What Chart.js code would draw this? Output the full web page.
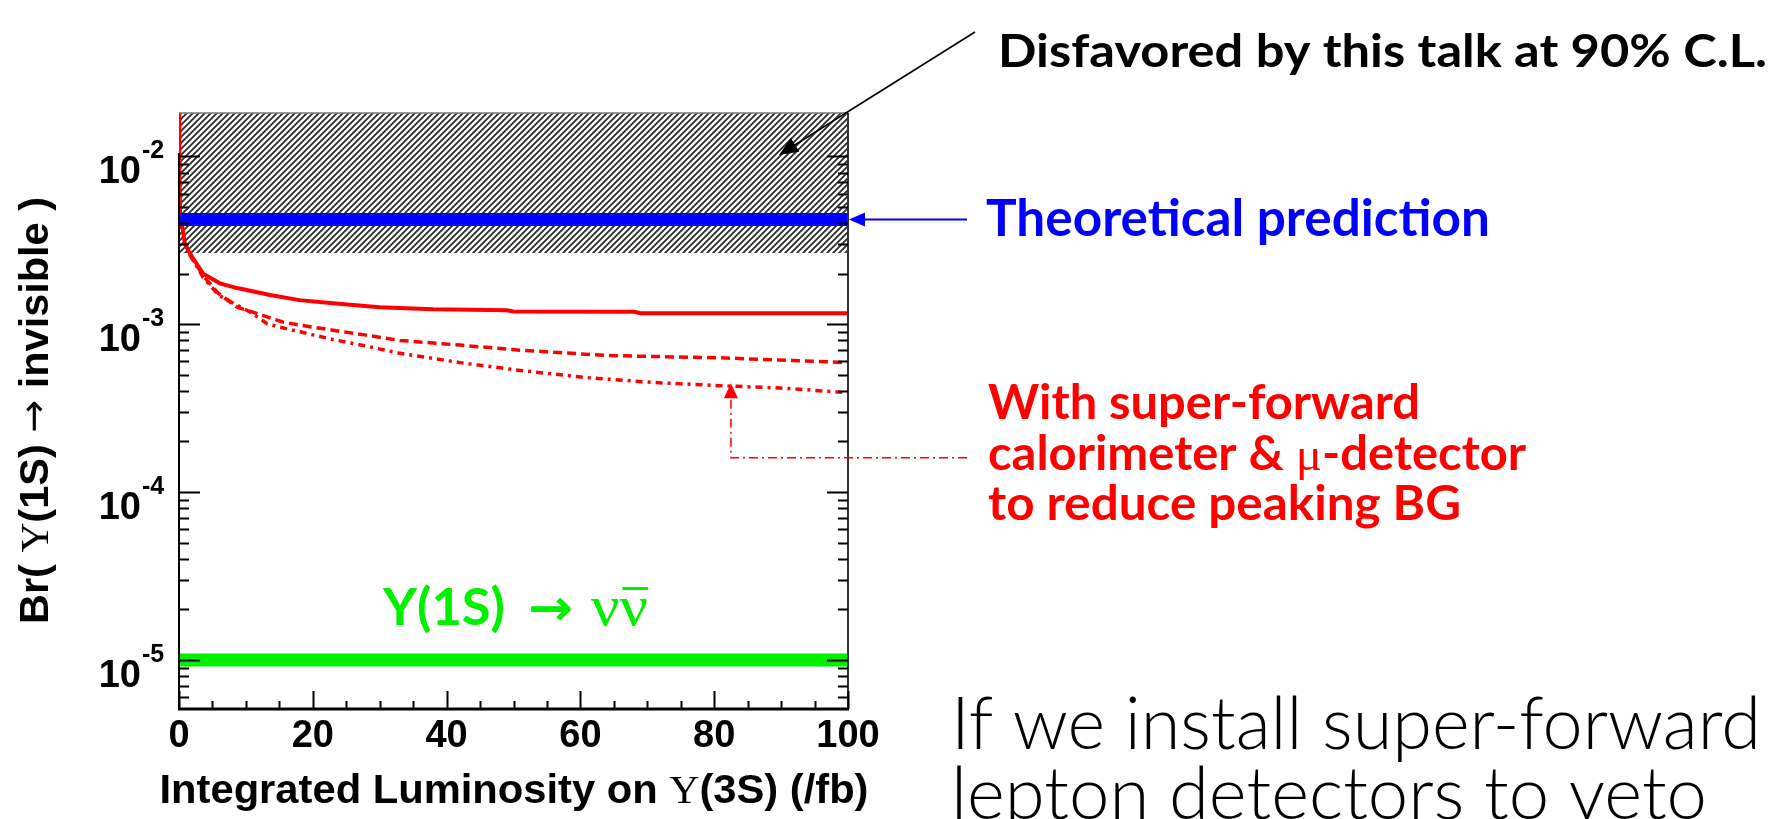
<!DOCTYPE html>
<html lang="en">
<head>
  <meta charset="UTF-8" />
  <title>Br(Υ(1S) → invisible) vs integrated luminosity</title>
  <script src="https://cdn.jsdelivr.net/npm/chart.js"></script>
  <style>
    html, body {
      margin: 0;
      padding: 0;
      background: #fff;
      overflow: hidden;
    }

    #wrap {
      position: relative;
      width: 1784px;
      height: 819px;
    }
  </style>
</head>
<body>
  <div id="wrap">
    <canvas id="brChart"></canvas>
  </div>

  <script>
    // x: integrated luminosity on Y(3S) in /fb, y: branching fraction (log)
    const lumiRange = [0, 100];
    const lumiTicks = [0, 20, 40, 60, 80, 100];
    const brRange = [5.1e-6, 1.81e-2];
    const brDecades = [-5, -4, -3, -2];

    // horizontal levels
    const disfavoredLow = 2.65e-3;   // hatched band goes from here to the top
    const theoryBr = 4.2e-3;
    const nunuBr = 1.0e-5;

    // expected 90% C.L. upper limit, current detector
    const limitLumi = [0, 0.05, 0.15, 0.9, 1.6, 3.6, 6.1, 8.7, 13.6, 18, 23, 30, 38, 49, 50, 68, 69, 100];
    const limitBr = [1.81e-2, 9.0e-3, 4.6e-3, 3.0e-3, 2.65e-3, 2.0e-3, 1.75e-3, 1.64e-3, 1.49e-3,
                     1.39e-3, 1.33e-3, 1.26e-3, 1.225e-3, 1.21e-3, 1.19e-3, 1.185e-3, 1.16e-3, 1.16e-3];

    // with super-forward calorimeter
    const calLumi = [1.6, 3.6, 5.7, 8.7, 11.6, 13.6, 15.5, 18.1, 23, 28, 33, 42, 51, 64, 81, 100];
    const calBr = [2.6e-3, 1.95e-3, 1.55e-3, 1.26e-3, 1.16e-3, 1.09e-3, 1.03e-3, 0.986e-3,
                   0.92e-3, 0.86e-3, 0.80e-3, 0.75e-3, 0.70e-3, 0.65e-3, 0.63e-3, 0.59e-3];

    // with super-forward calorimeter & mu-detector
    const calMuLumi = [1.6, 3.6, 6, 10.8, 13.1, 15, 18.1, 23, 28, 33, 42, 51, 61, 70.7, 80.7, 90.7, 100];
    const calMuBr = [2.6e-3, 1.9e-3, 1.48e-3, 1.17e-3, 1.01e-3, 0.96e-3, 0.90e-3, 0.81e-3, 0.74e-3,
                     0.67e-3, 0.59e-3, 0.53e-3, 0.48e-3, 0.45e-3, 0.43e-3, 0.415e-3, 0.39e-3];

    // where the red pointer touches the dash-dot curve, and its elbow
    const pointerLumi = 82.5;
    const pointerTipBr = 4.45e-4;
    const pointerElbowBr = 1.6e-4;

    const RED = '#ff0000';
    const BLUE = '#0000ff';
    const GREEN = '#00f000';
    const SANS = '"Liberation Sans", Arial, sans-serif';
    const SERIF = '"Liberation Serif", "Times New Roman", serif';
    const SLIDE = 'Lato, "Noto Sans", sans-serif';

    const toPoints = (xs, ys) => xs.map((x, i) => ({ x: x, y: ys[i] }));
    const flat = (v) => [{ x: lumiRange[0], y: v }, { x: lumiRange[1], y: v }];

    const canvas = document.getElementById('brChart');
    const ctx0 = canvas.getContext('2d');

    function hatchPattern(ctx) {
      const c = document.createElement('canvas');
      c.width = 6;
      c.height = 6;
      const p = c.getContext('2d');
      p.fillStyle = '#ffffff';
      p.fillRect(0, 0, 6, 6);
      p.strokeStyle = '#2a2a2a';
      p.lineWidth = 1.8;
      p.beginPath();
      p.moveTo(-1, 7); p.lineTo(7, -1);
      p.moveTo(-1, 1); p.lineTo(1, -1);
      p.moveTo(5, 7); p.lineTo(7, 5);
      p.stroke();
      return ctx.createPattern(c, 'repeat');
    }

    // draws runs of text with mixed fonts, squeezed/stretched to a given width
    function fitText(ctx, runs, x, y, width, color) {
      let natural = 0;
      for (const r of runs) {
        ctx.font = r.font;
        r.w = ctx.measureText(r.text).width;
        natural += r.w;
      }
      const sx = width ? width / natural : 1;
      ctx.save();
      ctx.translate(x, y);
      ctx.scale(sx, 1);
      ctx.fillStyle = color;
      ctx.textBaseline = 'alphabetic';
      ctx.textAlign = 'left';
      let cx = 0;
      for (const r of runs) {
        ctx.font = r.font;
        ctx.fillText(r.text, cx, r.dy || 0);
        if (r.overline) {
          ctx.fillRect(cx + r.w * 0.55, -r.overline, r.w * 0.45, 3);
        }
        cx += r.w;
      }
      ctx.restore();
    }

    function arrowHead(ctx, tipX, tipY, fromX, fromY, len, half, color) {
      const a = Math.atan2(tipY - fromY, tipX - fromX);
      ctx.save();
      ctx.fillStyle = color;
      ctx.translate(tipX, tipY);
      ctx.rotate(a);
      ctx.beginPath();
      ctx.moveTo(0, 0);
      ctx.lineTo(-len, -half);
      ctx.lineTo(-len, half);
      ctx.closePath();
      ctx.fill();
      ctx.restore();
    }

    const framePlugin = {
      id: 'rootFrame',
      afterDatasetsDraw(chart) {
        const { ctx, chartArea: area, scales } = chart;
        const xs = scales.x, ys = scales.y;
        ctx.save();

        // frame
        ctx.lineCap = 'butt';
        ctx.strokeStyle = '#777';
        ctx.lineWidth = 1.5;
        ctx.beginPath();
        ctx.moveTo(area.left, area.top);
        ctx.lineTo(area.right, area.top);
        ctx.stroke();
        ctx.strokeStyle = '#333';
        ctx.lineWidth = 2;
        ctx.beginPath();
        ctx.moveTo(area.right, area.top);
        ctx.lineTo(area.right, area.bottom);
        ctx.stroke();
        ctx.strokeStyle = '#000';
        ctx.beginPath();
        ctx.moveTo(area.left, area.top + 40);
        ctx.lineTo(area.left, area.bottom);
        ctx.stroke();
        ctx.lineWidth = 3;
        ctx.beginPath();
        ctx.moveTo(area.left - 1, area.bottom);
        ctx.lineTo(area.right + 1, area.bottom);
        ctx.stroke();

        // log ticks, pointing inward on both sides
        ctx.lineWidth = 2;
        ctx.strokeStyle = '#000';
        for (let d = -6; d <= -1; d++) {
          for (let m = 1; m <= 9; m++) {
            const v = m * Math.pow(10, d);
            if (v < brRange[0] || v > brRange[1]) continue;
            const py = Math.round(ys.getPixelForValue(v)) + 0.5;
            const len = m === 1 ? 21 : 10;
            ctx.beginPath();
            ctx.moveTo(area.left, py);
            ctx.lineTo(area.left + len, py);
            ctx.moveTo(area.right, py);
            ctx.lineTo(area.right - len, py);
            ctx.stroke();
          }
        }

        // x ticks every 5 /fb
        for (let v = lumiRange[0]; v <= lumiRange[1]; v += 5) {
          const px = Math.round(xs.getPixelForValue(v)) + 0.5;
          const len = v % 20 === 0 ? 18 : 8;
          ctx.beginPath();
          ctx.moveTo(px, area.bottom);
          ctx.lineTo(px, area.bottom - len);
          ctx.stroke();
        }

        // y labels: 10^d
        ctx.fillStyle = '#000';
        for (const d of brDecades) {
          const py = ys.getPixelForValue(Math.pow(10, d));
          ctx.font = 'bold 38px ' + SANS;
          ctx.textAlign = 'right';
          ctx.textBaseline = 'alphabetic';
          ctx.fillText('10', 141, py + 27);
          ctx.font = 'bold 25px ' + SANS;
          ctx.textAlign = 'left';
          ctx.fillText(String(d), 142, py + 2);
        }

        // x labels
        ctx.font = 'bold 38px ' + SANS;
        ctx.textAlign = 'center';
        for (const v of lumiTicks) {
          ctx.fillText(String(v), xs.getPixelForValue(v), 747);
        }

        // axis titles
        const tf = 'bold 41px ' + SANS;
        const sf = '41px ' + SERIF;
        const midX = (area.left + area.right) / 2;
        fitText(ctx, [
          { text: 'Integrated Luminosity on ', font: tf },
          { text: 'Υ', font: sf },
          { text: '(3S) (/fb)', font: tf }
        ], midX - 354, 803, 709, '#000');

        const midY = (area.top + area.bottom) / 2;
        ctx.save();
        ctx.translate(48, midY + 213);
        ctx.rotate(-Math.PI / 2);
        fitText(ctx, [
          { text: 'Br( ', font: 'bold 40px ' + SANS },
          { text: 'Υ', font: '40px ' + SERIF },
          { text: '(1S) ', font: 'bold 40px ' + SANS },
          { text: '→', font: '38px "DejaVu Sans", sans-serif', dy: -2 },
          { text: ' invisible )', font: 'bold 40px ' + SANS }
        ], 0, 0, 427, '#000');
        ctx.restore();

        ctx.restore();
      },

      afterDraw(chart) {
        const { ctx, chartArea: area, scales } = chart;
        const xs = scales.x, ys = scales.y;
        ctx.save();

        // disfavored region label + pointer
        fitText(ctx, [{ text: 'Disfavored by this talk at 90% C.L.', font: 'bold 46px ' + SLIDE }],
          998, 67, 769, '#000');
        ctx.strokeStyle = '#000';
        ctx.lineWidth = 1.5;
        ctx.beginPath();
        ctx.moveTo(975, 32);
        ctx.lineTo(790, 148);
        ctx.stroke();
        arrowHead(ctx, 779, 155, 975, 32, 19, 8, '#000');

        // theory line label
        const ty = ys.getPixelForValue(theoryBr);
        fitText(ctx, [{ text: 'Theoretical prediction', font: 'bold 51px ' + SLIDE }],
          986, 236, 504, BLUE);
        ctx.strokeStyle = BLUE;
        ctx.lineWidth = 2;
        ctx.beginPath();
        ctx.moveTo(967, ty);
        ctx.lineTo(area.right + 10, ty);
        ctx.stroke();
        arrowHead(ctx, area.right + 1, ty, 967, ty, 16, 7, BLUE);

        // super-forward detector label + dash-dot pointer
        const redFont = 'bold 47px ' + SLIDE;
        fitText(ctx, [{ text: 'With super-forward', font: redFont }], 988, 419, 432, RED);
        fitText(ctx, [
          { text: 'calorimeter & ', font: redFont },
          { text: 'μ', font: '47px ' + SERIF },
          { text: '-detector', font: redFont }
        ], 988, 470, 538, RED);
        fitText(ctx, [{ text: 'to reduce peaking BG', font: redFont }], 988, 520, 473, RED);

        const px = xs.getPixelForValue(pointerLumi);
        const tipY = ys.getPixelForValue(pointerTipBr);
        const elbowY = ys.getPixelForValue(pointerElbowBr);
        ctx.strokeStyle = RED;
        ctx.lineWidth = 1.5;
        ctx.setLineDash([9, 4, 2, 4]);
        ctx.beginPath();
        ctx.moveTo(967, elbowY);
        ctx.lineTo(px, elbowY);
        ctx.lineTo(px, tipY + 14);
        ctx.stroke();
        ctx.setLineDash([]);
        arrowHead(ctx, px, tipY, px, elbowY, 15, 7, RED);

        // Y(1S) -> nu nubar
        const gFont = 'bold 51px ' + SLIDE;
        fitText(ctx, [{ text: 'Υ(1S)', font: gFont }], 383, 625, 122, GREEN);
        fitText(ctx, [{ text: '→', font: 'bold 50px "DejaVu Sans", sans-serif' }], 528, 625, 45, GREEN);
        fitText(ctx, [{ text: 'νν', font: '56px ' + SERIF, overline: 38 }], 591, 625, 57, GREEN);

        // slide text below the red label
        const plain = '300 73px ' + SLIDE;
        fitText(ctx, [{ text: 'If we install super-forward', font: plain }], 951, 749, 810, '#000');
        fitText(ctx, [{ text: 'lepton detectors to veto', font: plain }], 951, 819, 756, '#000');

        ctx.restore();
      }
    };

    new Chart(canvas, {
      type: 'line',
      data: {
        datasets: [
          {
            label: 'Theoretical prediction',
            data: flat(theoryBr),
            borderColor: BLUE,
            borderWidth: 13,
            borderCapStyle: 'butt',
            fill: false,
            order: 0
          },
          {
            label: 'Expected limit',
            data: toPoints(limitLumi, limitBr),
            borderColor: RED,
            borderWidth: 4,
            fill: false,
            order: 1
          },
          {
            label: 'Disfavored at 90% C.L.',
            data: flat(brRange[1]),
            borderWidth: 0,
            borderColor: 'rgba(0,0,0,0)',
            backgroundColor: hatchPattern(ctx0),
            fill: { value: disfavoredLow },
            order: 2
          },
          {
            label: 'With super-forward calorimeter',
            data: toPoints(calLumi, calBr),
            borderColor: RED,
            borderWidth: 3.5,
            borderDash: [9, 5],
            fill: false,
            order: 3
          },
          {
            label: 'With super-forward calorimeter & mu-detector',
            data: toPoints(calMuLumi, calMuBr),
            borderColor: RED,
            borderWidth: 3.5,
            borderDash: [7, 5, 3, 5],
            fill: false,
            order: 4
          },
          {
            label: 'Y(1S) -> nu nubar',
            data: flat(nunuBr),
            borderColor: GREEN,
            borderWidth: 13,
            borderCapStyle: 'butt',
            fill: false,
            order: 5
          }
        ]
      },
      options: {
        responsive: true,
        maintainAspectRatio: false,
        animation: false,
        layout: {
          padding: { left: 179, top: 113, right: 936, bottom: 110 }
        },
        elements: {
          point: { radius: 0 },
          line: { tension: 0 }
        },
        scales: {
          x: { type: 'linear', min: lumiRange[0], max: lumiRange[1], display: false },
          y: { type: 'logarithmic', min: brRange[0], max: brRange[1], display: false }
        },
        plugins: {
          legend: { display: false },
          tooltip: { enabled: false }
        }
      },
      plugins: [framePlugin]
    });
  </script>
</body>
</html>
